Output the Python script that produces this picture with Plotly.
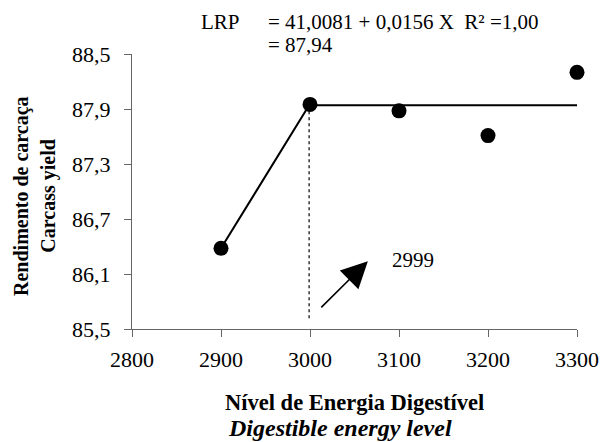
import plotly.graph_objects as go

# Observed data
energy_levels = [2900, 3000, 3100, 3200, 3300]
carcass_yield = [86.38, 87.95, 87.88, 87.61, 88.30]

# LRP fitted line (linear segment then plateau)
fit_x = [2900, 2999, 3300]
fit_y = [86.38, 87.94, 87.94]

break_point = 2999
plateau = 87.94
dotted_bottom = 85.6

y_ticks = [85.5, 86.1, 86.7, 87.3, 87.9, 88.5]
y_tick_labels = ["85,5", "86,1", "86,7", "87,3", "87,9", "88,5"]
x_ticks = [2800, 2900, 3000, 3100, 3200, 3300]

FONT = "Liberation Serif"

fig = go.Figure()

fig.add_trace(go.Scatter(
    x=[break_point, break_point], y=[plateau, dotted_bottom],
    mode="lines", line=dict(color="black", width=1.2, dash="dot"),
    hoverinfo="skip", showlegend=False))

fig.add_trace(go.Scatter(
    x=fit_x, y=fit_y, mode="lines",
    line=dict(color="black", width=2), showlegend=False))

fig.add_trace(go.Scatter(
    x=energy_levels, y=carcass_yield, mode="markers",
    marker=dict(color="black", size=15), showlegend=False, cliponaxis=False))

annotations = [
    dict(x=3065, y=86.24, ax=3011, ay=85.72, xref="x", yref="y", axref="x", ayref="y",
         text="", showarrow=True, arrowhead=2, arrowsize=3.3, arrowwidth=1.6, arrowcolor="black"),
    dict(x=3116, y=86.25, xref="x", yref="y", text=str(break_point), showarrow=False,
         font=dict(family=FONT, size=21, color="black")),
    dict(x=0.150, y=1.116, xref="paper", yref="paper", xanchor="left", yanchor="middle",
         text="LRP", showarrow=False, font=dict(family=FONT, size=21, color="black")),
    dict(x=0.300, y=1.116, xref="paper", yref="paper", xanchor="left", yanchor="middle",
         text="= 41,0081 + 0,0156 X  R² =1,00", showarrow=False,
         font=dict(family=FONT, size=21, color="black")),
    dict(x=0.300, y=1.033, xref="paper", yref="paper", xanchor="left", yanchor="middle",
         text="= 87,94", showarrow=False, font=dict(family=FONT, size=21, color="black")),
    dict(x=-0.247, y=0.484, xref="paper", yref="paper", xanchor="center", yanchor="middle",
         textangle=-90, text="<b>Rendimento de carcaça</b>", showarrow=False,
         font=dict(family=FONT, size=20, color="black")),
    dict(x=-0.187, y=0.484, xref="paper", yref="paper", xanchor="center", yanchor="middle",
         textangle=-90, text="<b>Carcass yield</b>", showarrow=False,
         font=dict(family=FONT, size=20, color="black")),
    dict(x=0.5, y=-0.269, xref="paper", yref="paper", xanchor="center", yanchor="middle",
         text="<b>Nível de Energia Digestível</b>", showarrow=False,
         font=dict(family=FONT, size=22.5, color="black")),
    dict(x=0.467, y=-0.36, xref="paper", yref="paper", xanchor="center", yanchor="middle",
         text="<b><i>Digestible energy level</i></b>", showarrow=False,
         font=dict(family=FONT, size=24, color="black")),
]

fig.update_layout(
    width=603, height=442,
    margin=dict(l=132, r=26, t=54, b=113, autoexpand=False),
    paper_bgcolor="white", plot_bgcolor="white",
    showlegend=False,
    annotations=annotations,
    xaxis=dict(range=[2800, 3300], tickvals=x_ticks, showgrid=False, zeroline=False,
               automargin=False,
               showline=True, linecolor="#666", linewidth=1.2,
               ticks="outside", ticklen=7, tickcolor="#666",
               tickfont=dict(family=FONT, size=22, color="black"),
               ticklabelstandoff=3),
    yaxis=dict(range=[85.5, 88.5], tickvals=y_ticks, ticktext=y_tick_labels,
               showgrid=False, zeroline=False, automargin=False,
               showline=True, linecolor="#666", linewidth=1.2,
               ticks="outside", ticklen=7, tickcolor="#666",
               tickfont=dict(family=FONT, size=22, color="black"),
               ticklabelstandoff=9),
)

fig.write_html("out.html", config={"displayModeBar": False},
               post_script="document.body.style.margin='0';document.body.style.padding='0';")
